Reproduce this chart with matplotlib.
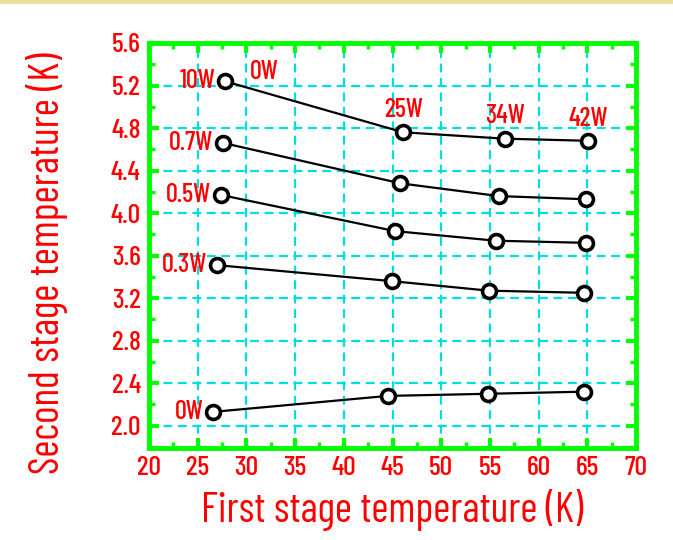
import matplotlib
matplotlib.use("Agg")
import matplotlib.pyplot as plt
from matplotlib.ticker import MultipleLocator, FormatStrFormatter
from matplotlib.patches import Rectangle

plt.rcParams['font.family'] = ['Barlow Condensed', 'Archivo Narrow', 'DejaVu Sans']
plt.rcParams['font.weight'] = 500

# Data
x_10w = [27.8, 46.1, 56.5, 65.1]
y_10w = [5.24, 4.76, 4.70, 4.68]
x_07w = [27.6, 45.8, 55.9, 64.9]
y_07w = [4.66, 4.28, 4.16, 4.13]
x_05w = [27.4, 45.3, 55.6, 64.9]
y_05w = [4.17, 3.83, 3.74, 3.72]
x_03w = [27.0, 44.9, 54.9, 64.7]
y_03w = [3.51, 3.36, 3.27, 3.25]
x_00w = [26.6, 44.5, 54.8, 64.7]
y_00w = [2.13, 2.28, 2.30, 2.32]
series = [(x_10w, y_10w), (x_07w, y_07w), (x_05w, y_05w), (x_03w, y_03w), (x_00w, y_00w)]
left_labels = ["10W", "0.7W", "0.5W", "0.3W", "0W"]
top_labels = ["0W", "25W", "34W", "42W"]

xticks = [20, 25, 30, 35, 40, 45, 50, 55, 60, 65, 70]
yticks = [2.0, 2.4, 2.8, 3.2, 3.6, 4.0, 4.4, 4.8, 5.2, 5.6]

red = '#ff0000'
green = '#00ff00'
cyan = '#00dddd'

fig = plt.figure(figsize=(6.73, 5.40), dpi=100)
fig.patch.set_facecolor('white')
# top beige strip
fig.patches.append(Rectangle((0, 1 - 4/540), 1, 4/540, transform=fig.transFigure,
                             facecolor='#f0dca0', edgecolor='none'))

ax = fig.add_axes([149/673, 1 - 448/540, (636 - 149)/673, (448 - 43)/540])
ax.set_xlim(20, 70)
ax.set_ylim(1.79, 5.6)

ax.set_xticks(xticks)
ax.set_yticks(yticks)
ax.yaxis.set_major_formatter(FormatStrFormatter('%.1f'))
ax.xaxis.set_minor_locator(MultipleLocator(2.5))
ax.yaxis.set_minor_locator(MultipleLocator(0.2))

ax.grid(True, which='major', color=cyan, linestyle=(0, (4, 2.5)), linewidth=1.6)
ax.set_axisbelow(True)

for s in ax.spines.values():
    s.set_color(green)
    s.set_linewidth(3.5)

ax.tick_params(which='major', direction='in', length=7, width=3, color=green,
               top=True, right=True, labelsize=20, labelcolor=red, pad=6)
ax.tick_params(which='minor', direction='in', length=4, width=2.5, color=green,
               top=True, right=True)

for xs, ys in series:
    ax.plot(xs, ys, color='black', linewidth=1.6, marker='o', markersize=10,
            markerfacecolor='white', markeredgecolor='black', markeredgewidth=2.6,
            zorder=5)

for (xs, ys), lab in zip(series, left_labels):
    ax.annotate(lab, (xs[0], ys[0]), xytext=(-7, 0), textcoords='offset points',
                ha='right', va='center', color=red, fontsize=19)

# top labels for 10W series
ax.annotate(top_labels[0], (x_10w[0], y_10w[0]), xytext=(18, 7), textcoords='offset points',
            ha='left', va='center', color=red, fontsize=19)
for xv, yv, lab in zip(x_10w[1:], y_10w[1:], top_labels[1:]):
    ax.annotate(lab, (xv, yv), xytext=(0, 16), textcoords='offset points',
                ha='center', va='center', color=red, fontsize=19)

ax.set_xlabel("First stage temperature (K)", color=red, fontsize=30)
ax.set_ylabel("Second stage temperature (K)", color=red, fontsize=30)
ax.xaxis.label.set_va('center')
ax.yaxis.label.set_va('center')
ax.yaxis.label.set_ha('center')
ax.xaxis.set_label_coords((392 - 149) / 487, (448 - 510) / 405)
ax.yaxis.set_label_coords((47 - 149) / 487, (448 - 263) / 405)

fig.savefig("out.png", dpi=100)
